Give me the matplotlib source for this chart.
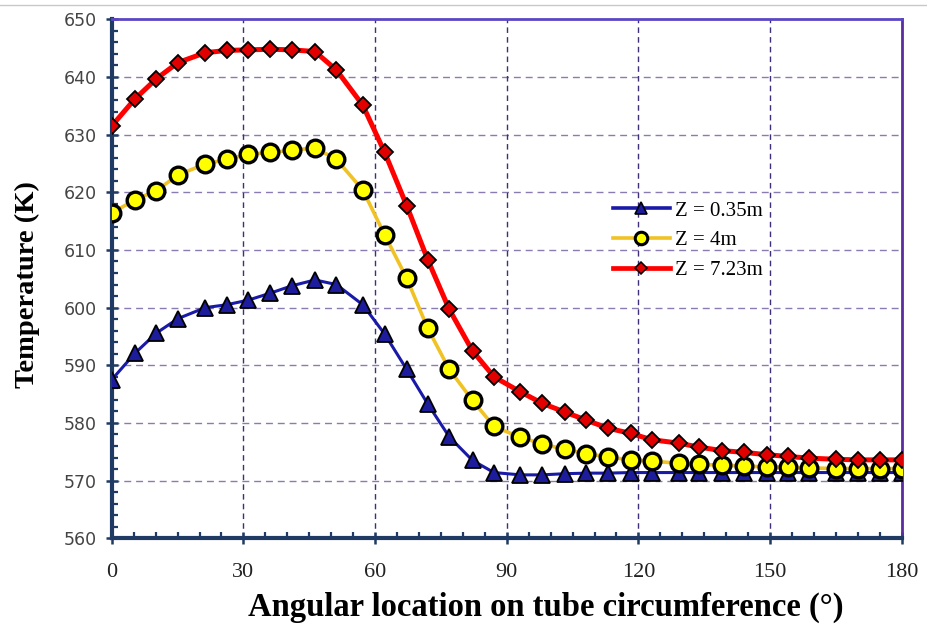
import matplotlib
matplotlib.use('Agg')
import matplotlib.pyplot as plt
from matplotlib.ticker import MultipleLocator
from matplotlib.lines import Line2D

# angular positions of the data points (deg)
angle = [0, 5.3, 10.2, 15.1, 21.3, 26.2, 31.1, 36.1, 41.1, 46.3, 51.2, 57.2,
         62.2, 67.2, 72.0, 76.9, 82.2, 87.1, 93.1, 98.1, 103.2, 108.1, 113.0, 118.2,
         123.0, 129.2, 133.9, 139.1, 144.1, 149.2, 154.0, 158.9, 165.0, 170.0, 175.0, 180.0]

temp_z035 = [587.5, 592.1, 595.6, 598.1, 600.0, 600.5, 601.3, 602.5, 603.8, 604.8, 604.0, 600.5,
             595.4, 589.3, 583.3, 577.6, 573.5, 571.4, 571.0, 571.0, 571.2, 571.3, 571.3, 571.4,
             571.4, 571.4, 571.4, 571.4, 571.4, 571.4, 571.4, 571.4, 571.4, 571.4, 571.4, 571.4]

temp_z4 = [616.4, 618.7, 620.3, 623.0, 624.9, 625.7, 626.6, 626.9, 627.3, 627.7, 625.7, 620.4,
           612.6, 605.1, 596.4, 589.3, 583.9, 579.4, 577.5, 576.4, 575.4, 574.7, 574.1, 573.6,
           573.4, 573.0, 572.8, 572.7, 572.5, 572.4, 572.3, 572.2, 572.1, 572.1, 572.1, 572.1]

temp_z723 = [631.5, 636.2, 639.7, 642.5, 644.2, 644.6, 644.7, 644.8, 644.7, 644.4, 641.2, 635.1,
             626.9, 617.7, 608.3, 599.7, 592.5, 588.0, 585.4, 583.4, 581.9, 580.5, 579.1, 578.2,
             577.1, 576.5, 575.8, 575.2, 574.9, 574.5, 574.2, 573.9, 573.7, 573.6, 573.6, 573.6]

series_labels = ['Z = 0.35m', 'Z = 4m', 'Z = 7.23m']
x_ticks = [0, 30, 60, 90, 120, 150, 180]
y_ticks = [560, 570, 580, 590, 600, 610, 620, 630, 640, 650]

fig = plt.figure(figsize=(9.28, 6.26), dpi=100)
ax = fig.add_axes([0.1204, 0.1401, 0.8513, 0.8291])

navy = '#1f3a63'

# grid first so the curves sit on top
for yv in y_ticks[1:-1]:
    ax.axhline(yv, color='#8a7cb0', lw=1.0, ls=(0, (5, 3.5)), zorder=1)
for xv in x_ticks[1:-1]:
    ax.axvline(xv, color='#3f2f78', lw=1.0, ls=(0, (4, 3)), zorder=1)

ax.plot(angle, temp_z035, color='#1a1aa8', lw=2.2, marker='^', ms=11,
        mfc='#1c1c9c', mec='black', mew=1.3, label=series_labels[0], zorder=3)
ax.plot(angle, temp_z4, color='#f0c224', lw=2.6, marker='o', ms=12,
        mfc='#ffff00', mec='black', mew=2.4, label=series_labels[1], zorder=4)
ax.plot(angle, temp_z723, color='#ff0000', lw=3.6, marker='D', ms=7.8,
        mfc='#e00000', mec='black', mew=1.3, label=series_labels[2], zorder=5)

ax.set_xlim(0, 180)
ax.set_ylim(560, 650)
ax.set_xticks(x_ticks)
ax.set_yticks(y_ticks)
ax.xaxis.set_minor_locator(MultipleLocator(5))
ax.yaxis.set_minor_locator(MultipleLocator(2))

ax.tick_params(axis='both', which='major', direction='inout', length=8, width=1.8, color=navy)
ax.tick_params(axis='both', which='minor', direction='in', length=4, width=1.6, color=navy)
ax.tick_params(axis='x', which='major', pad=14)
ax.tick_params(axis='y', which='major', pad=7)

for lab in ax.get_xticklabels():
    lab.set_fontfamily('Liberation Serif')
    lab.set_fontsize(16)
    lab.set_color('#222222')
for lab in ax.get_yticklabels():
    lab.set_fontfamily('DejaVu Sans')
    lab.set_fontsize(12.5)
    lab.set_color('#444444')

ax.spines['left'].set_color(navy)
ax.spines['left'].set_linewidth(3)
ax.spines['bottom'].set_color(navy)
ax.spines['bottom'].set_linewidth(3)
ax.spines['top'].set_color('#5b46c4')
ax.spines['top'].set_linewidth(2)
ax.spines['right'].set_color('#5a2ca0')
ax.spines['right'].set_linewidth(2)

# legend sits inside the plot, right of the 90 deg gridline
leg_handles = [
    Line2D([], [], color='#1a1aa8', lw=2.6, marker='^', ms=9, mfc='#1c1c9c', mec='black', mew=1.2),
    Line2D([], [], color='#f0c224', lw=2.6, marker='o', ms=9, mfc='#ffff00', mec='black', mew=2.2),
    Line2D([], [], color='#ff0000', lw=3.4, marker='D', ms=6, mfc='#e00000', mec='black', mew=1.1),
]
leg = ax.legend(leg_handles, series_labels, loc='upper left', bbox_to_anchor=(0.6207, 0.6698),
                frameon=False, prop={'family': 'Liberation Serif', 'size': 15},
                handlelength=2.75, handletextpad=0.25, labelspacing=0.48, borderpad=0)
leg.set_zorder(6)

fig.text(546 / 928, 1 - 607 / 626, 'Angular location on tube circumference (°)',
         ha='center', va='center', fontfamily='Liberation Serif', fontweight='bold', fontsize=23.5)
fig.text(27 / 928, 1 - 285 / 626, 'Temperature (K)', rotation=90,
         ha='center', va='center', fontfamily='Liberation Serif', fontweight='bold', fontsize=20.5)

# thin grey rule across the top of the page
fig.add_artist(Line2D([0, 1], [1 - 5 / 626, 1 - 5 / 626], color='#c8c8c8', lw=1))

fig.savefig('out.png', dpi=100)
